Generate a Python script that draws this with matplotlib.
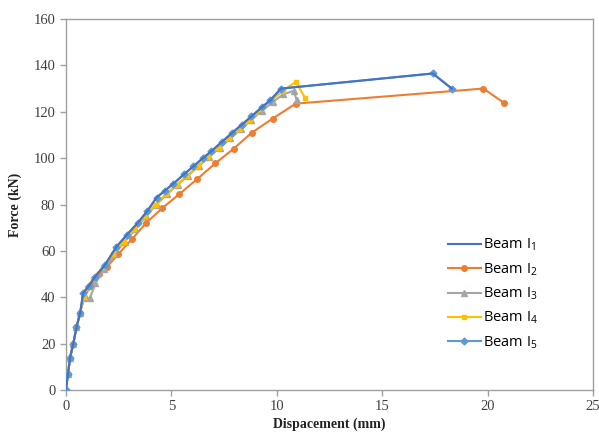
import numpy as np
import matplotlib
matplotlib.use('Agg')
import matplotlib.pyplot as plt

# data (displacement mm, force kN)
x1 = [0, 0.1, 0.2, 0.35, 0.5, 0.67, 0.82, 1.1, 1.38, 1.85, 2.4, 2.9, 3.4, 3.85, 4.3, 4.7,
      5.1, 5.6, 6.05, 6.5, 6.9, 7.4, 7.9, 8.35, 8.8, 9.3, 9.7, 10.2, 17.4, 18.3]
y1 = [0, 7, 14, 20, 27, 33, 41.8, 45, 48.8, 53.9, 61.8, 67, 72, 77, 83, 86,
      89, 93, 96.5, 100, 103, 107, 111, 114.5, 118, 122, 125, 130, 136.5, 130]

x2 = [0, 0.1, 0.2, 0.35, 0.5, 0.67, 0.85, 1.2, 1.55, 1.94, 2.48, 3.13, 3.8, 4.57,
      5.38, 6.23, 7.08, 7.95, 8.82, 9.8, 10.9, 19.8, 20.8]
y2 = [0, 7, 14, 20, 27, 33, 40, 45, 50, 53, 58.6, 65, 72, 78.4,
      84.5, 91, 97.7, 104, 111, 117, 123.5, 130, 123.7]

x3 = [0, 0.1, 0.2, 0.35, 0.5, 0.67, 0.85, 1.14, 1.4, 1.8, 2.3, 2.8, 3.3, 3.8, 4.3, 4.8,
      5.3, 5.8, 6.3, 6.8, 7.3, 7.8, 8.3, 8.8, 9.3, 9.8, 10.3, 10.8, 10.95]
y3 = [0, 7, 14, 20, 27, 33, 39.5, 39.6, 46, 52, 58.5, 64, 69.5, 75, 80, 84.5,
      88.5, 92.5, 96.5, 100.5, 104.5, 108.5, 112.5, 116.5, 120.5, 124, 127.5, 129, 125]

x4 = [0, 0.1, 0.2, 0.35, 0.5, 0.67, 0.85, 1.0, 1.3, 1.75, 2.25, 2.75, 3.25, 3.75, 4.25,
      4.75, 5.25, 5.75, 6.25, 6.75, 7.25, 7.75, 8.25, 8.75, 9.25, 9.75, 10.3, 10.9, 11.35]
y4 = [0, 7, 14, 20, 27, 33, 40, 44, 48, 53, 58.5, 64, 69.5, 75, 80,
      84.5, 88.5, 92.5, 96.5, 100.5, 104.5, 108.5, 112.5, 116.5, 121, 125, 129, 132.9, 125.9]

x5 = x1
y5 = y1

labels = ['Beam I$_1$', 'Beam I$_2$', 'Beam I$_3$', 'Beam I$_4$', 'Beam I$_5$']
colors = ['#4472C4', '#ED7D31', '#A5A5A5', '#FFC000', '#5B9BD5']

plt.rcParams['mathtext.fontset'] = 'custom'
plt.rcParams['mathtext.rm'] = 'Open Sans'
plt.rcParams['mathtext.it'] = 'Open Sans'

fig = plt.figure(figsize=(5.99, 4.47), dpi=100)
ax = fig.add_axes([0.110, 0.1275, 0.880, 0.830])

l1, = ax.plot(x1, y1, color=colors[0], lw=1.5, zorder=6)
l2, = ax.plot(x2, y2, color=colors[1], lw=1.5, marker='o', ms=4, zorder=3)
l3, = ax.plot(x3, y3, color=colors[2], lw=1.5, marker='^', ms=4, zorder=4)
l4, = ax.plot(x4, y4, color=colors[3], lw=1.5, marker='s', ms=3.5, zorder=4)
l5, = ax.plot(x5, y5, color=colors[4], lw=1.5, marker='D', ms=3.5, zorder=5)

ax.set_xlim(0, 25)
ax.set_ylim(0, 160)
ax.set_xticks([0, 5, 10, 15, 20, 25])
ax.set_yticks(np.arange(0, 161, 20))

for s in ax.spines.values():
    s.set_color('#A0A0A0')
    s.set_linewidth(1.0)
ax.tick_params(axis='both', colors='#A0A0A0', length=4, width=1, labelcolor='#404040',
               labelsize=10.5)
for lab in ax.get_xticklabels() + ax.get_yticklabels():
    lab.set_family('Liberation Serif')

ax.set_xlabel('Dispacement (mm)', family='Liberation Serif', fontweight='bold',
              fontsize=10, color='#222222', labelpad=3)
ax.set_ylabel('Force (kN)', family='Liberation Serif', fontweight='bold',
              fontsize=10, color='#222222', labelpad=8)

leg = ax.legend([l1, l2, l3, l4, l5], labels, loc='lower right',
                bbox_to_anchor=(0.92, 0.07), frameon=False, handlelength=2.3,
                handletextpad=0.1, labelspacing=0.55,
                prop={'family': 'Open Sans', 'size': 10.5})

fig.savefig('out.png', dpi=100)
